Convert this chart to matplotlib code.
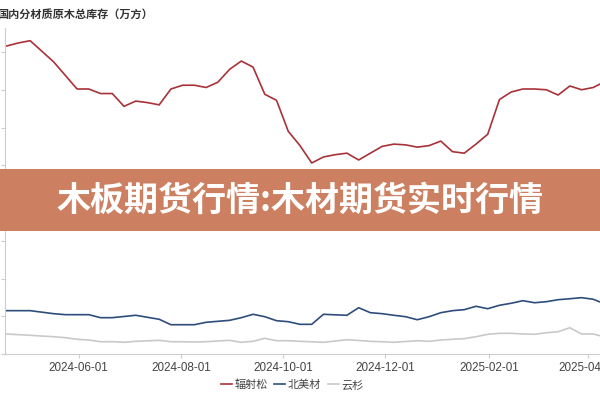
import matplotlib
matplotlib.use("Agg")
import matplotlib.pyplot as plt
import matplotlib.dates as mdates
from matplotlib.patches import Rectangle
import pandas as pd

plt.rcParams['font.family'] = ['Liberation Sans', 'Noto Sans CJK SC', 'DejaVu Sans']

dates = pd.date_range("2024-04-19", periods=52, freq="7D")

radiata = [408, 412, 415, 401, 387, 369, 351, 351, 345, 345, 328, 335, 333, 330,
           351, 356, 356, 353, 360, 377, 388, 380, 344, 336, 295, 276, 253, 261,
           264, 266, 257, 266, 275, 278, 277, 274, 276, 282, 268, 266, 278, 291,
           337, 347, 351, 351, 350, 343, 355, 350, 353, 361]
north_american = [57.4, 57.4, 57.4, 55.4, 53.4, 52.1, 52.1, 52.1, 48.1, 48.1, 49.7,
                  51.3, 48.6, 46.0, 38.8, 38.8, 38.8, 42.0, 43.3, 44.6, 48.1, 52.6,
                  49.4, 44.1, 42.8, 39.3, 39.3, 52.6, 51.9, 51.3, 61.3, 54.7, 53.4,
                  51.3, 49.4, 45.4, 49.4, 54.7, 57.4, 58.7, 63.2, 60.0, 64.5, 67.2,
                  70.6, 67.9, 69.3, 71.9, 73.2, 74.6, 72.5, 66.2]
spruce = [26.5, 25.6, 24.8, 23.8, 22.9, 21.6, 19.5, 18.5, 16.3, 16.3, 15.5, 16.8,
          17.5, 18.1, 16.3, 16.2, 15.9, 16.3, 17.2, 18.1, 15.5, 16.8, 20.8, 17.6,
          17.6, 16.8, 16.2, 15.5, 17.2, 18.9, 17.9, 16.8, 16.2, 15.5, 16.6, 17.6,
          16.8, 18.5, 19.5, 20.3, 22.9, 26.1, 27.4, 27.4, 26.5, 26.1, 28.2, 29.5,
          34.8, 26.5, 26.5, 22.5]

series_names = ["辐射松", "北美材", "云杉"]
series_colors = ["#a83238", "#2e4d7b", "#c9c9c9"]
x_ticks = ["2024-06-01", "2024-08-01", "2024-10-01", "2024-12-01", "2025-02-01", "2025-04-01"]
y_ticks = [0, 50, 100, 150, 200, 250, 300, 350, 400]

title = "国内分材质原木总库存（万方）"
banner = "木板期货行情:木材期货实时行情"

fig = plt.figure(figsize=(6, 4), dpi=100)
ax = fig.add_axes([5/600, 46/400, 595/600, 326/400])

for vals, name, col in zip([radiata, north_american, spruce], series_names, series_colors):
    ax.plot(dates, vals, color=col, lw=1.2, label=name)

ax.set_xlim(pd.Timestamp("2024-04-18"), pd.Timestamp("2025-04-08"))
ax.set_ylim(0, 431.8)
ax.set_yticks(y_ticks)
ax.set_yticklabels([])
ax.set_xticks([pd.Timestamp(t) for t in x_ticks])
ax.set_xticklabels(x_ticks)
ax.tick_params(axis='x', length=3, color='#cccccc', labelsize=8.4, labelcolor='#444444', pad=3)
ax.tick_params(axis='y', length=3, color='#cccccc')
for s in ['top', 'right']:
    ax.spines[s].set_visible(False)
for s in ['left', 'bottom']:
    ax.spines[s].set_color('#cccccc')
    ax.spines[s].set_linewidth(0.8)

leg = fig.legend(loc='center', bbox_to_anchor=(292/600, 1 - 385/400), ncol=3,
                 frameon=False, handlelength=1.0, handletextpad=0.2, columnspacing=0.6,
                 prop={'family': ['Noto Sans CJK SC', 'DejaVu Sans'], 'size': 8})
for t in leg.get_texts():
    t.set_color('#444444')

fig.text(-3/600, 1 - 14/400, title, ha='left', va='center', fontsize=8,
         fontweight='bold', color='#333333', family=['Noto Sans CJK SC', 'DejaVu Sans'])

fig.add_artist(Rectangle((0, 1 - 231/400), 1, 62/400, transform=fig.transFigure,
                         facecolor='#cc7f61', edgecolor='none', zorder=5))
fig.text(300/600, 1 - 200/400, banner, ha='center', va='center', fontsize=24.5,
         fontweight='black', color='white', zorder=6,
         family=['Noto Sans CJK SC', 'DejaVu Sans'])

fig.savefig("out.png", dpi=100)
